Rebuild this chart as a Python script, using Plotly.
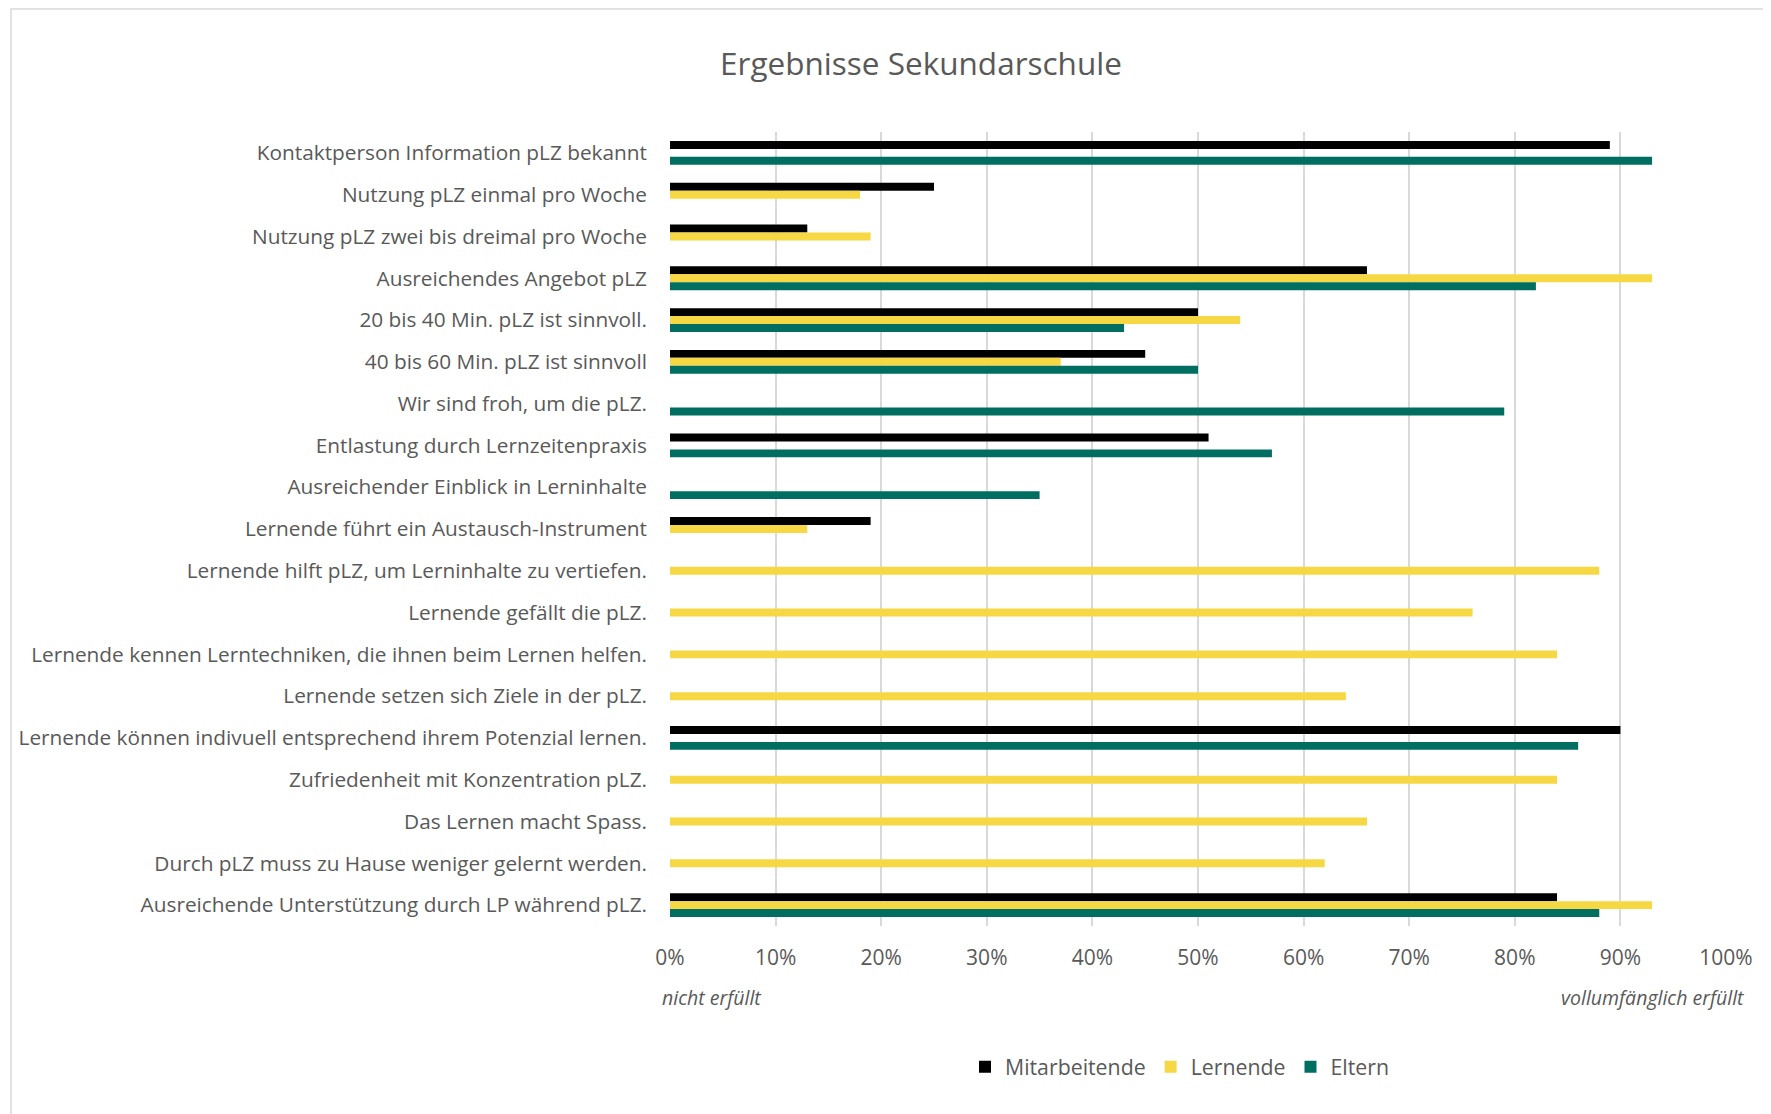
import plotly.graph_objects as go

categories = [
    "Kontaktperson Information pLZ bekannt",
    "Nutzung pLZ einmal pro Woche",
    "Nutzung pLZ zwei bis dreimal pro Woche",
    "Ausreichendes Angebot pLZ",
    "20 bis 40 Min. pLZ ist sinnvoll.",
    "40 bis 60 Min. pLZ ist sinnvoll",
    "Wir sind froh, um die pLZ.",
    "Entlastung durch Lernzeitenpraxis",
    "Ausreichender Einblick in Lerninhalte",
    "Lernende führt ein Austausch-Instrument",
    "Lernende hilft pLZ, um Lerninhalte zu vertiefen.",
    "Lernende gefällt die pLZ.",
    "Lernende kennen Lerntechniken, die ihnen beim Lernen helfen.",
    "Lernende setzen sich Ziele in der pLZ.",
    "Lernende können indivuell entsprechend ihrem Potenzial lernen.",
    "Zufriedenheit mit Konzentration pLZ.",
    "Das Lernen macht Spass.",
    "Durch pLZ muss zu Hause weniger gelernt werden.",
    "Ausreichende Unterstützung durch LP während pLZ.",
]

mitarbeitende = [0.89, 0.25, 0.13, 0.66, 0.50, 0.45, None, 0.51, None, 0.19,
                 None, None, None, None, 0.90, None, None, None, 0.84]
lernende = [None, 0.18, 0.19, 0.93, 0.54, 0.37, None, None, None, 0.13,
            0.88, 0.76, 0.84, 0.64, None, 0.84, 0.66, 0.62, 0.93]
eltern = [0.93, None, None, 0.82, 0.43, 0.50, 0.79, 0.57, 0.35, None,
          None, None, None, None, 0.86, None, None, None, 0.88]

series_names = ["Mitarbeitende", "Lernende", "Eltern"]
series_colors = ["#000000", "#F5D843", "#006F62"]

tick_vals = [i / 10 for i in range(11)]
tick_text = [f"{i*10}%" for i in range(11)]

title_text = "Ergebnisse Sekundarschule"
left_note = "nicht erfüllt"
right_note = "vollumfänglich erfüllt"

OFF = 8  # page body margin
W, H = 1771 - OFF, 1114 - OFF
# plot area in page pixels
PL, PR, PT, PB = 670, 1726, 132, 926
FONT = "Open Sans"
TXT = "#595959"


def px_x(x):
    return (x - PL) / (PR - PL)


def px_y(y):
    return (PB - y) / (PB - PT)


fig = go.Figure()
for name, vals, col in zip(series_names, [mitarbeitende, lernende, eltern], series_colors):
    fig.add_trace(go.Bar(
        y=categories, x=vals, name=name, orientation="h",
        marker=dict(color=col, line=dict(width=0)),
    ))

fig.update_layout(
    width=W, height=H,
    margin=dict(l=PL - OFF, r=W - (PR - OFF), t=PT - OFF, b=H - (PB - OFF), autoexpand=False),
    paper_bgcolor="white", plot_bgcolor="white",
    barmode="group", bargap=0.43, bargroupgap=0,
    font=dict(family=FONT, color=TXT),
    title=dict(text=title_text, x=(921 - OFF) / W, xanchor="center",
               y=1 - (64 - OFF) / H, yanchor="middle",
               font=dict(family=FONT, size=31.5, color=TXT)),
    showlegend=True,
    legend=dict(orientation="h", x=px_x(1180), xanchor="center", y=px_y(1067), yanchor="middle",
                font=dict(family=FONT, size=21.3, color=TXT), traceorder="normal",
                itemwidth=30, bgcolor="rgba(0,0,0,0)"),
    xaxis=dict(range=[0, 1], tickvals=tick_vals, ticktext=tick_text, showgrid=True,
               gridcolor="#D9D9D9", gridwidth=1.5, zeroline=False, showline=False,
               tickfont=dict(family=FONT, size=21, color=TXT), ticklabelstandoff=17,
               fixedrange=True),
    yaxis=dict(autorange="reversed", type="category", showgrid=False, zeroline=False,
               showline=False, tickfont=dict(family=FONT, size=20.8, color=TXT),
               ticklabelstandoff=22, fixedrange=True),
)

fig.add_annotation(text=left_note, x=px_x(660), y=px_y(997), xref="paper", yref="paper",
                   xanchor="left", yanchor="middle", showarrow=False,
                   font=dict(family=FONT, size=19.5, color=TXT, style="italic"))
fig.add_annotation(text=right_note, x=px_x(1747), y=px_y(997), xref="paper", yref="paper",
                   xanchor="right", yanchor="middle", showarrow=False,
                   font=dict(family=FONT, size=19.5, color=TXT, style="italic"))

fig.add_shape(type="rect", xref="paper", yref="paper",
              x0=px_x(11), x1=px_x(1800), y0=px_y(1130), y1=px_y(9),
              line=dict(color="#D9D9D9", width=1.5), fillcolor="rgba(0,0,0,0)", layer="below")

fig.write_html("out.html")
